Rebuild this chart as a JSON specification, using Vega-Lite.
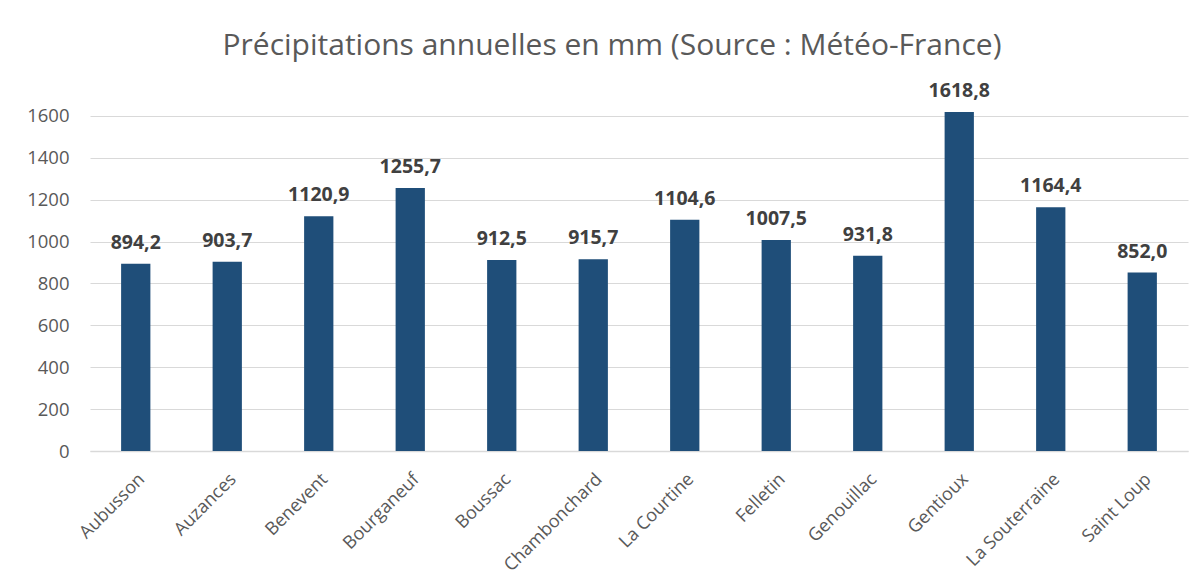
{
  "$schema": "https://vega.github.io/schema/vega-lite/v6.json",
  "width": 1098,
  "height": 356,
  "autosize": {"type": "none"},
  "padding": {"left": 90, "top": 95, "right": 15, "bottom": 133},
  "background": "white",
  "title": {
    "text": "Précipitations annuelles en mm (Source : Météo-France)",
    "anchor": "middle",
    "dx": -27,
    "offset": 20,
    "fontSize": 30,
    "font": "Open Sans",
    "fontWeight": "normal",
    "color": "#595959"
  },
  "config": {
    "locale": {"number": {"decimal": ",", "thousands": "", "grouping": [3], "currency": ["", " €"]}},
    "view": {"stroke": null},
    "font": "Open Sans"
  },
  "data": {
    "values": [
      {"ville": "Aubusson", "mm": 894.2},
      {"ville": "Auzances", "mm": 903.7},
      {"ville": "Benevent", "mm": 1120.9},
      {"ville": "Bourganeuf", "mm": 1255.7},
      {"ville": "Boussac", "mm": 912.5},
      {"ville": "Chambonchard", "mm": 915.7},
      {"ville": "La Courtine", "mm": 1104.6},
      {"ville": "Felletin", "mm": 1007.5},
      {"ville": "Genouillac", "mm": 931.8},
      {"ville": "Gentioux", "mm": 1618.8},
      {"ville": "La Souterraine", "mm": 1164.4},
      {"ville": "Saint Loup", "mm": 852.0}
    ]
  },
  "encoding": {
    "x": {
      "field": "ville",
      "type": "nominal",
      "sort": null,
      "title": null,
      "scale": {"paddingInner": 0.68, "paddingOuter": 0.34},
      "axis": {
        "labelAngle": -45,
        "labelFontSize": 18,
        "labelColor": "#595959",
        "labelPadding": 19,
        "ticks": false,
        "domainColor": "#d9d9d9",
        "domainWidth": 1.5
      }
    },
    "y": {
      "field": "mm",
      "type": "quantitative",
      "title": null,
      "scale": {"domain": [0, 1700], "nice": false},
      "axis": {
        "values": [0, 200, 400, 600, 800, 1000, 1200, 1400, 1600],
        "format": "d",
        "labelFontSize": 18.5,
        "labelColor": "#595959",
        "labelPadding": 21,
        "ticks": false,
        "domain": false,
        "gridColor": "#d9d9d9",
        "gridWidth": 1.2
      }
    }
  },
  "layer": [
    {"mark": {"type": "bar", "color": "#1f4e79"}},
    {
      "mark": {"type": "text", "baseline": "alphabetic", "dy": -15, "fontWeight": "bold", "fontSize": 19.5, "color": "#404040"},
      "encoding": {"text": {"field": "mm", "type": "quantitative", "format": ".1f"}}
    }
  ]
}
